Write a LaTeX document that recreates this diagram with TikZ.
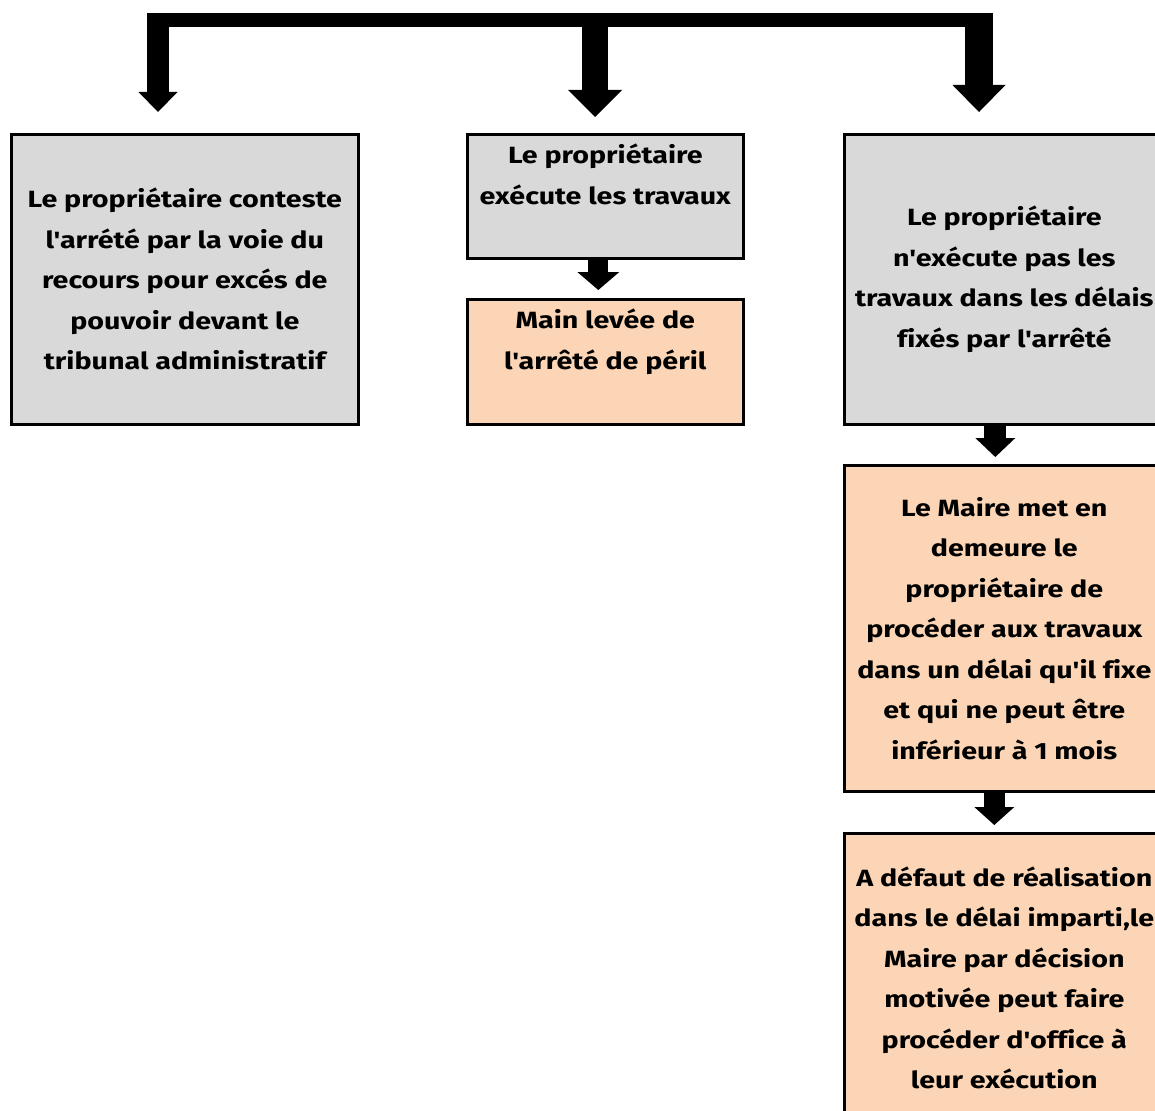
\documentclass[tikz,border=0pt]{standalone}
\usepackage{fontspec}
\setmainfont{Fira Sans}[Ligatures={TeXOff,CommonOff}, FakeStretch=1.22]
\usetikzlibrary{arrows.meta,calc}
\definecolor{boxgrey}{HTML}{D9D9D9}
\definecolor{boxpeach}{HTML}{FBD5B5}
\begin{document}
\begin{tikzpicture}[x=1pt,y=-1pt,
  box/.style={draw=black, line width=2.6pt, rectangle, anchor=north west, inner sep=0pt,
    font=\fontsize{23.5}{40.5}\selectfont\bfseries, align=center},
  greybox/.style={box, fill=boxgrey},
  peachbox/.style={box, fill=boxpeach},
  blockarrow/.style n args={3}{draw=black, line width=#1, line cap=butt,
    -{Triangle[width=#2, length=#3, line width=0pt]}}
]
\useasboundingbox (0,0) rectangle (1155,1110);
\clip (0,0) rectangle (1155,1110);
\fill[white] (0,0) rectangle (1155,1110);

% boxes
\node[greybox, minimum width=347pt, minimum height=290pt] (b1) at (10,133)
  {Le propriétaire conteste\\l'arrété par la voie du\\recours pour excés de\\pouvoir devant le\\tribunal administratif};
\node[greybox, minimum width=276pt, minimum height=124pt] (b2) at (466,133)
  {\parbox[c][120pt][t]{272pt}{\centering\vspace*{8pt}Le propriétaire\\exécute les travaux}};
\node[peachbox, minimum width=276pt, minimum height=125pt] (b3) at (466,298)
  {\parbox[c][121pt][t]{272pt}{\centering\vspace*{8pt}Main levée de\\l'arrêté de péril}};
\node[greybox, minimum width=320pt, minimum height=290pt] (b4) at (843,133)
  {Le propriétaire\\n'exécute pas les\\travaux dans les délais\\fixés par l'arrêté};
\node[peachbox, minimum width=320pt, minimum height=326pt] (b5) at (843,464)
  {Le Maire met en\\demeure le\\propriétaire de\\procéder aux travaux\\dans un délai qu'il fixe\\et qui ne peut être\\inférieur à 1 mois};
\node[peachbox, minimum width=320pt, minimum height=289pt] (b6) at (843,832)
  {A défaut de réalisation\\dans le délai imparti,le\\Maire par décision\\motivée peut faire\\procéder d'office à\\leur exécution};

% top distribution bar
\coordinate (barL) at (147,20);
\coordinate (barR) at (993,20);
\draw[draw=black, line width=14pt, line cap=butt] (barL) -- (barR);
\coordinate (d1) at (158,13);
\coordinate (d2) at (595,13);
\coordinate (d3) at (979,13);
\draw[blockarrow={22pt}{39pt}{20pt}] (d1) -- (d1 |- 0,112);
\draw[blockarrow={26pt}{54pt}{27pt}] (d2) -- (d2 |- 0,117);
\draw[blockarrow={28pt}{53pt}{27pt}] (d3) -- (d3 |- 0,112);

% box to box arrows
\draw[blockarrow={20pt}{42pt}{18pt}] ($(b2.south)+(-7,0)$) -- ($(b3.north)+(-7,-8)$);
\draw[blockarrow={22pt}{40pt}{19pt}] ($(b4.south)+(-9,0)$) -- ($(b5.north)+(-9,-7)$);
\draw[blockarrow={21pt}{40pt}{18pt}] ($(b5.south)+(-10,0)$) -- ($(b6.north)+(-10,-7)$);
\end{tikzpicture}
\end{document}
